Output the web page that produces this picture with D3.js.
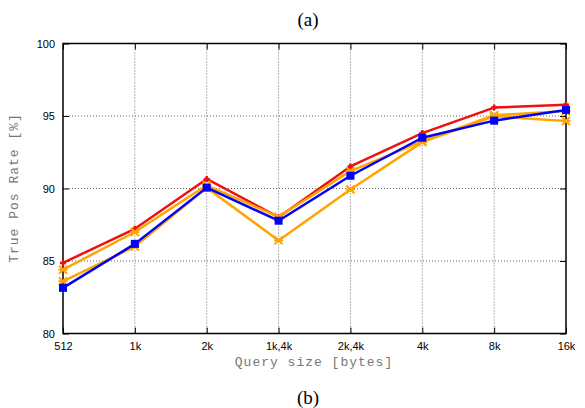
<!DOCTYPE html>
<html><head><meta charset="utf-8">
<script src="https://cdn.jsdelivr.net/npm/d3@7"></script>
<style>body{margin:0;background:#fff}svg{display:block}</style>
</head><body>
<script>
const categories = ["512","1k","2k","1k,4k","2k,4k","4k","8k","16k"];
const yTicks = [80,85,90,95,100];
const redVals    = [84.87, 87.22, 90.66, 88.02, 91.52, 93.82, 95.58, 95.78];
const orangeAVals= [84.40, 87.00, 90.22, 88.05, 91.20, 93.25, 95.05, 95.35];
const orangeBVals= [83.60, 86.00, 90.05, 86.42, 89.93, 93.20, 94.98, 94.65];
const blueVals   = [83.15, 86.18, 90.06, 87.78, 90.88, 93.50, 94.68, 95.42];

const W=585,H=408;
const m={l:63,r:566,t:43.5,b:333.5};
const svg=d3.select("body").append("svg").attr("width",W).attr("height",H);
const x=d3.scalePoint().domain(categories).range([m.l,m.r]);
const y=d3.scaleLinear().domain([80,100]).range([m.b,m.t]);

// grid
const g=svg.append("g");
g.selectAll(".vg").data(categories.slice(1,-1)).join("line")
 .attr("x1",d=>x(d)).attr("x2",d=>x(d)).attr("y1",m.t).attr("y2",m.b)
 .attr("stroke","#666").attr("stroke-width",1).attr("stroke-dasharray","1,2");
g.selectAll(".hg").data(yTicks.slice(1,-1)).join("line")
 .attr("y1",d=>y(d)).attr("y2",d=>y(d)).attr("x1",m.l).attr("x2",m.r)
 .attr("stroke","#666").attr("stroke-width",1).attr("stroke-dasharray","1,2");

// axes
const fontT="'Liberation Sans',Arial,sans-serif";
const ax=svg.append("g").attr("transform",`translate(0,${m.b})`)
 .call(d3.axisBottom(x).tickSize(-6).tickPadding(9));
const ay=svg.append("g").attr("transform",`translate(${m.l},0)`)
 .call(d3.axisLeft(y).tickValues(yTicks).tickSize(-6).tickPadding(8));
const axT=svg.append("g").attr("transform",`translate(0,${m.t})`)
 .call(d3.axisTop(x).tickSize(-6).tickFormat(""));
const ayR=svg.append("g").attr("transform",`translate(${m.r},0)`)
 .call(d3.axisRight(y).tickValues(yTicks).tickSize(-6).tickFormat(""));
[ax,ay,axT,ayR].forEach(a=>{
  a.select(".domain").remove();
  a.selectAll(".tick line").attr("stroke","#000").attr("stroke-width",1);
  a.selectAll("text").attr("font-family",fontT).attr("font-size",11).attr("fill","#000");
});
svg.append("rect").attr("x",m.l).attr("y",m.t).attr("width",m.r-m.l).attr("height",m.b-m.t)
 .attr("fill","none").attr("stroke","#000").attr("stroke-width",1.5);

// series
const line=d3.line().x((d,i)=>x(categories[i])).y(d=>y(d));
function drawSeries(vals,color,marker){
  svg.append("path").datum(vals).attr("d",line).attr("fill","none")
   .attr("stroke",color).attr("stroke-width",2.5).attr("stroke-linejoin","round");
  const mg=svg.append("g");
  vals.forEach((v,i)=>{
    const cx=x(categories[i]),cy=y(v);
    if(marker==="square"){
      mg.append("rect").attr("x",cx-4).attr("y",cy-4).attr("width",8).attr("height",8).attr("fill",color);
    } else if(marker==="plus"){
      mg.append("path").attr("d",`M${cx-3},${cy}H${cx+3}M${cx},${cy-3}V${cy+3}`)
        .attr("stroke",color).attr("stroke-width",2.5);
    } else {
      mg.append("path").attr("d",`M${cx-4},${cy-4}L${cx+4},${cy+4}M${cx-4},${cy+4}L${cx+4},${cy-4}M${cx-4.5},${cy}H${cx+4.5}`)
        .attr("stroke",color).attr("stroke-width",2);
    }
  });
}
drawSeries(redVals,"#f01010","plus");
drawSeries(orangeBVals,"#ffa500","star");
drawSeries(orangeAVals,"#ffa500","star");
drawSeries(blueVals,"#0000ff","square");

// titles
const fontM="'Liberation Mono','Courier New',monospace";
svg.append("text").attr("x",314).attr("y",366).attr("text-anchor","middle")
 .attr("font-family",fontM).attr("font-size",13).attr("fill","#777").attr("letter-spacing",1)
 .text("Query size [bytes]");
svg.append("text").attr("transform","translate(18,188) rotate(-90)").attr("text-anchor","middle")
 .attr("font-family",fontM).attr("font-size",13).attr("fill","#777").attr("letter-spacing",1)
 .text("True Pos Rate [%]");
const fontS="'Liberation Serif','Times New Roman',serif";
svg.append("text").attr("x",308).attr("y",26).attr("text-anchor","middle")
 .attr("font-family",fontS).attr("font-size",19).attr("fill","#000").text("(a)");
svg.append("text").attr("x",308).attr("y",404).attr("text-anchor","middle")
 .attr("font-family",fontS).attr("font-size",19).attr("fill","#000").text("(b)");
</script>
</body></html>
